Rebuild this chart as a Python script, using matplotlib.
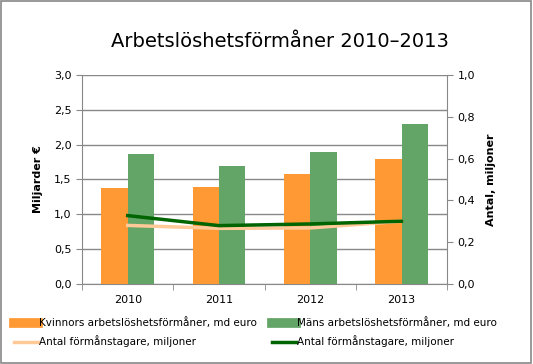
import matplotlib
matplotlib.use("Agg")
import matplotlib.pyplot as plt
import numpy as np
from matplotlib.lines import Line2D
from matplotlib.patches import Rectangle

years = ["2010", "2011", "2012", "2013"]
women_benefits = [1.38, 1.39, 1.58, 1.79]
men_benefits = [1.87, 1.69, 1.89, 2.30]
recipients_women = [0.28, 0.266, 0.268, 0.30]
recipients_men = [0.327, 0.279, 0.287, 0.30]

plt.rcParams['font.family'] = ['DejaVu Sans']
fig = plt.figure(figsize=(5.33, 3.64), dpi=100)
fig.patches.append(Rectangle((0.002, 0.003), 0.994, 0.994, transform=fig.transFigure,
                             fill=False, edgecolor='#888888', lw=1.2))

ax = fig.add_axes([0.154, 0.22, 0.685, 0.574])
x = np.arange(len(years))
w = 0.29
ax.bar(x - w/2, women_benefits, w, color='#FF9933', zorder=3)
ax.bar(x + w/2, men_benefits, w, color='#63A566', zorder=3)
ax.set_ylim(0, 3.0)
ax.set_xlim(-0.5, 3.5)
ax.set_yticks(np.arange(0, 3.01, 0.5))
ax.set_yticklabels([f"{v:.1f}".replace('.', ',') for v in np.arange(0, 3.01, 0.5)], fontsize=8)
ax.yaxis.grid(True, color='#888888', lw=1, zorder=0)
ax.set_xticks(x)
ax.set_xticklabels(years, fontsize=8)
ax.set_xticks(np.arange(-0.5, 3.6, 1), minor=True)
ax.tick_params(axis='x', which='major', length=0, pad=8)
ax.tick_params(axis='x', which='minor', length=4, color='#888888')
ax.tick_params(axis='y', length=4, color='#888888')
for s in ['top', 'right']:
    ax.spines[s].set_visible(False)
for s in ['left', 'bottom']:
    ax.spines[s].set_color('#888888')
ax.set_ylabel("Miljarder €", fontsize=8, fontweight='bold', labelpad=8)

ax2 = ax.twinx()
ax2.plot(x, recipients_women, color='#FFC998', lw=2.5, zorder=4)
ax2.plot(x, recipients_men, color='#006400', lw=2.5, zorder=5)
ax2.set_ylim(0, 1.0)
ax2.set_yticks(np.arange(0, 1.01, 0.2))
ax2.set_yticklabels([f"{v:.1f}".replace('.', ',') for v in np.arange(0, 1.01, 0.2)], fontsize=8)
ax2.tick_params(axis='y', length=4, color='#888888')
for s in ['top', 'left', 'bottom']:
    ax2.spines[s].set_visible(False)
ax2.spines['right'].set_color('#888888')
ax2.set_ylabel("Antal, miljoner", fontsize=8, fontweight='bold', labelpad=8)

fig.text(0.525, 0.885, "Arbetslöshetsförmåner 2010–2013", ha='center', va='center', fontsize=14)

handles = [
    Line2D([], [], color='#FF9933', lw=7),
    Line2D([], [], color='#FFC998', lw=2.5),
    Line2D([], [], color='#63A566', lw=7),
    Line2D([], [], color='#006400', lw=2.5),
]
labels = ["Kvinnors arbetslöshetsförmåner, md euro",
          "Antal förmånstagare, miljoner",
          "Mäns arbetslöshetsförmåner, md euro",
          "Antal förmånstagare, miljoner"]
fig.legend(handles, labels, ncol=2, loc='lower left', bbox_to_anchor=(0.008, 0.02),
           frameon=False, fontsize=7.5, handlelength=2.3, handletextpad=0.15,
           columnspacing=1.4, labelspacing=0.7)

fig.savefig("out.png", dpi=100)
